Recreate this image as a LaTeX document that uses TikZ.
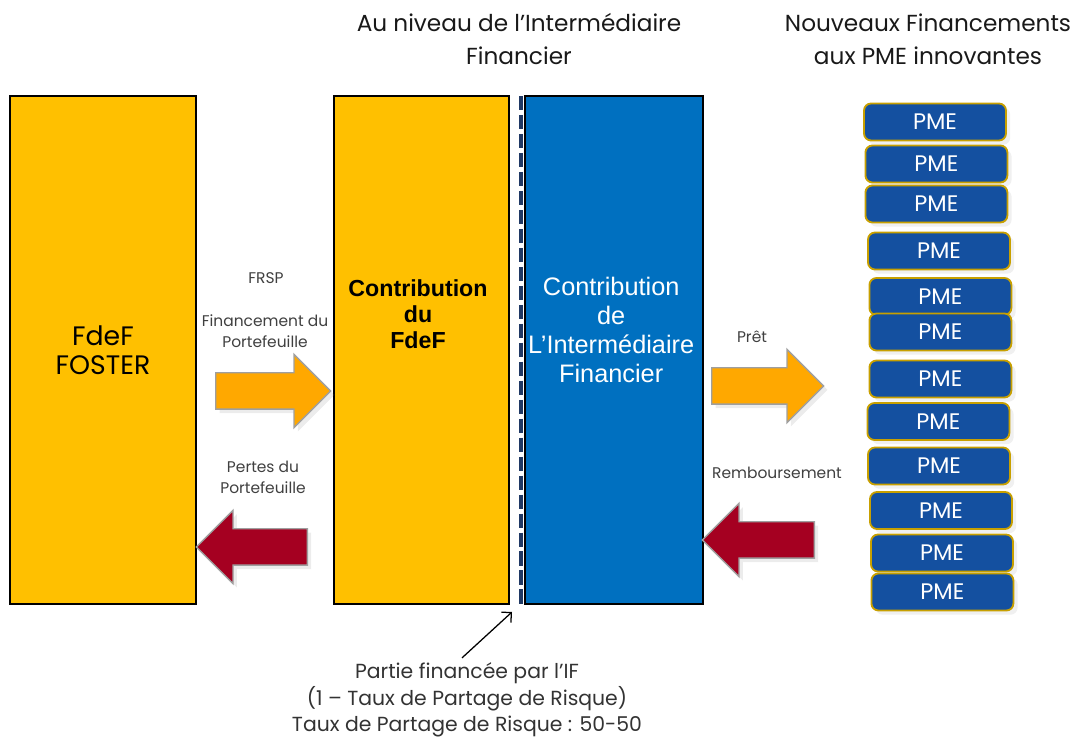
\documentclass[tikz,border=0pt]{standalone}
\usepackage{fontspec}
\setmainfont{Poppins}
\newfontfamily\arialfont{Liberation Sans}
\usepackage{tikz}
\usetikzlibrary{arrows.meta, positioning, shapes.arrows, shadows}

\definecolor{fdefyellow}{HTML}{FFC000}
\definecolor{ifblue}{HTML}{0070C0}
\definecolor{flowgold}{HTML}{FFA800}
\definecolor{lossred}{HTML}{A50021}
\definecolor{pmeblue}{HTML}{1450A0}
\definecolor{pmegold}{HTML}{C8A000}
\definecolor{navy}{HTML}{1F3864}
\definecolor{labelgray}{HTML}{404040}

\tikzset{
  fundbox/.style={draw=black, line width=1.4pt, minimum height=12.7cm, inner sep=0pt, align=center},
  blocarrow/.style={single arrow, draw=gray!75, line width=1pt, inner xsep=0pt, inner ysep=0.4375cm,
    single arrow head extend=0.4625cm, minimum height=#1, anchor=tail, drop shadow={opacity=0.15}},
  pmebox/.style={rectangle, rounded corners=5pt, draw=pmegold, line width=1.3pt, fill=pmeblue, text=white,
    minimum width=3.55cm, minimum height=0.925cm, inner sep=0pt, font=\fontsize{16}{18}\selectfont,
    drop shadow={opacity=0.12, shadow xshift=3pt, shadow yshift=-3pt}},
  flowlabel/.style={text=labelgray, align=center, font=\fontsize{11}{14.5}\selectfont},
  title/.style={align=center, text=black!90, font=\fontsize{16.5}{23.5}\selectfont}
}

\begin{document}
\begin{tikzpicture}
\useasboundingbox (0,0) rectangle (27.025,18.45);

% Titles
\node[title] (iftitle) at (12.975,17.4625) {Au niveau de l’Intermédiaire\\Financier};
\node[title] (pmetitle) at (23.2,17.4625) {Nouveaux Financements\\aux PME innovantes};

% Fund boxes
\node[fundbox, fill=fdefyellow, minimum width=4.65cm, font=\fontsize{19}{21}\selectfont] (foster) at (2.575,9.7) {FdeF\\FOSTER};
\node[fundbox, fill=fdefyellow, minimum width=4.375cm] (contrib) at (10.5375,9.7) {};
\node[fundbox, fill=ifblue, minimum width=4.45cm] (ifbox) at (15.35,9.7) {};
\node[align=center, font=\arialfont\bfseries\fontsize{16.5}{18.5}\selectfont] (contribtext) at (10.45,10.6) {Contribution\\du\\FdeF};
\node[align=center, text=white, font=\arialfont\fontsize{18}{20.6}\selectfont] (iftext) at (15.28,10.2) {Contribution\\de\\L’Intermédiaire\\Financier};

% Split between FdeF and IF
\draw[navy, line width=2.4pt, dash pattern=on 10pt off 3.5pt] (13.025,16.05) -- (13.025,3.35);

% Flows (placed by their tails)
\node[blocarrow=2.875cm, fill=flowgold] (finarrow) at (5.375,8.675) {};
\node[blocarrow=2.775cm, fill=lossred, shape border rotate=180] (lossarrow) at (7.7,4.775) {};
\node[blocarrow=2.8cm, fill=flowgold] (loanarrow) at (17.775,8.8) {};
\node[blocarrow=2.8cm, fill=lossred, shape border rotate=180] (repayarrow) at (20.375,4.95) {};

\node[flowlabel] (frsp) at (6.65,11.5) {FRSP};
\node[flowlabel] (finlabel) at (6.625,10.175) {Financement du\\Portefeuille};
\node[flowlabel] (losslabel) at (6.575,6.5125) {Pertes du\\Portefeuille};
\node[flowlabel] (loanlabel) at (18.8,10.025) {Prêt};
\node[flowlabel] (repaylabel) at (19.425,6.625) {Remboursement};

% PME column
\foreach \x/\y [count=\i] in {23.375/15.4, 23.41/14.35, 23.41/13.35, 23.475/12.175, 23.51/11.0375, 23.51/10.15,
    23.51/8.975, 23.46/7.9125, 23.475/6.8, 23.525/5.6875, 23.55/4.625, 23.56/3.65} {
  \node[pmebox] (pme\i) at (\x,\y) {PME};
}

% Note on the IF share
\node[align=center, text=black!80, font=\fontsize{14.5}{18.8}\selectfont] (partie) at (11.675,0.95)
  {Partie financée par l’IF\\(1 – Taux de Partage de Risque)\\Taux de Partage de Risque : 50-50};
\coordinate (ifedge) at (12.8,3.15);
\draw[-{Straight Barb[length=5pt]}, line width=0.9pt] ([xshift=-0.125cm]partie.north) -- (ifedge);
\end{tikzpicture}
\end{document}
